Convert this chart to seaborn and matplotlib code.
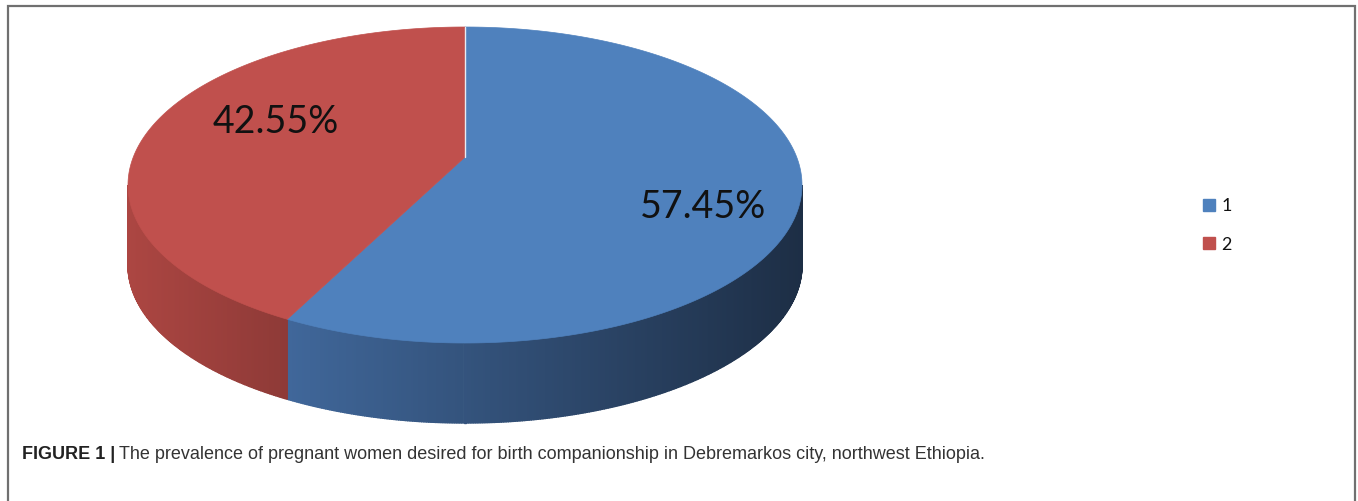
import numpy as np
import matplotlib
matplotlib.use("Agg")
import matplotlib.pyplot as plt
import seaborn as sns
from matplotlib.patches import Polygon, Patch
from matplotlib.colors import to_rgb

# ---- data ----
categories = ["1", "2"]
values = [57.45, 42.55]
value_labels = ["57.45%", "42.55%"]
caption_bold = "FIGURE 1 |"
caption_text = "The prevalence of pregnant women desired for birth companionship in Debremarkos city, northwest Ethiopia."

# ---- style ----
top_colors = ["#4F81BD", "#C0504D"]
side_left = ["#40679A", "#AC4642"]
side_right = ["#1D2E45", "#8E3A37"]

sns.set_theme(style="white")
plt.rcParams['font.family'] = ['Lato', 'DejaVu Sans']

W, H = 1358, 501
fig = plt.figure(figsize=(W / 100, H / 100), dpi=100)
ax = fig.add_axes([0, 0, 1, 1])
ax.set_xlim(0, W)
ax.set_ylim(H, 0)
ax.axis('off')

# pie geometry (layout)
cx, cy, rx, ry, depth = 465, 185, 337, 158, 80
persp = 28.0 / ry          # apparent shift of the centre (perspective)
label_pos = [(703, 207), (276, 122)]


def proj(a_deg, r=1.0, dy=0.0):
    """point at radius r, angle a (clockwise from top) on tilted disc"""
    a = np.radians(a_deg)
    u, v = r * np.sin(a), r * np.cos(a)
    den = 1 + persp * v
    up = u * np.sqrt(1 - persp ** 2) / den
    vp = (v + persp) / den
    return cx + rx * up, cy - ry * vp + dy


apex = proj(0, r=0.0)
fracs = np.array(values) / np.sum(values)
bounds = np.concatenate([[0.0], np.cumsum(fracs) * 360.0])
vis0 = np.degrees(np.arccos(-persp))
vis1 = 360 - vis0

# ---- side walls (visible front half) ----
for i in range(len(values)):
    a0 = max(bounds[i], vis0)
    a1 = min(bounds[i + 1], vis1)
    if a1 <= a0:
        continue
    angs = np.linspace(a0, a1, int((a1 - a0) * 3) + 2)
    xs = [proj(a)[0] for a in angs]
    xmin, xmax = min(xs), max(xs)
    cl = np.array(to_rgb(side_left[i]))
    cr = np.array(to_rgb(side_right[i]))
    for k in range(len(angs) - 1):
        p1 = proj(angs[k]); p2 = proj(angs[k + 1])
        q2 = proj(angs[k + 1], dy=depth); q1 = proj(angs[k], dy=depth)
        xm = 0.5 * (p1[0] + p2[0])
        t = (xm - xmin) / (xmax - xmin) if xmax > xmin else 0
        col = cl * (1 - t) + cr * t
        ax.add_patch(Polygon([p1, p2, q2, q1], closed=True, facecolor=col,
                             edgecolor=col, linewidth=1.0))

# ---- top slices ----
for i in range(len(values)):
    angs = np.linspace(bounds[i], bounds[i + 1], 240)
    pts = [apex] + [proj(a) for a in angs]
    ax.add_patch(Polygon(pts, closed=True, facecolor=top_colors[i],
                         edgecolor=top_colors[i], linewidth=0.5))
x0, y0 = proj(0)
ax.plot([apex[0], x0], [apex[1], y0], color="#E8ECF4", lw=1.0)

# ---- value labels ----
for (lx, ly), txt in zip(label_pos, value_labels):
    ax.text(lx, ly, txt, ha='center', va='center', fontsize=27, color='#111111')

# ---- legend ----
handles = [Patch(facecolor=c, edgecolor=c) for c in top_colors]
fig.legend(handles, categories, loc='upper left',
           bbox_to_anchor=(1194 / W, 1 - 189 / H), frameon=False,
           fontsize=13, handlelength=0.65, handleheight=0.65,
           handletextpad=0.35, labelspacing=1.25, borderpad=0,
           labelcolor='#111111')

# ---- frame ----
ax.plot([8, 8, 1355, 1355], [H, 6, 6, H], color='#707070', lw=1.6,
        solid_joinstyle='miter')

# ---- caption ----
cap_fam = ['Liberation Sans Narrow', 'Liberation Sans', 'DejaVu Sans']
t1 = ax.text(22, 459, caption_bold, fontsize=13, fontweight='bold',
             family=cap_fam, color='#222222', va='baseline', ha='left')
fig.canvas.draw()
bb = t1.get_window_extent(renderer=fig.canvas.get_renderer())
ax.text(bb.x1 + 4, 459, caption_text, fontsize=13, family=cap_fam,
        color='#333333', va='baseline', ha='left')

fig.savefig("out.png", dpi=100)
